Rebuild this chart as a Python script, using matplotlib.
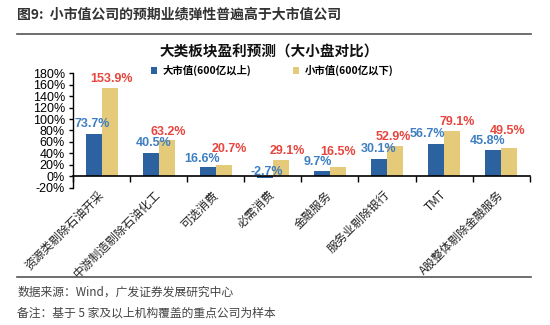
import numpy as np
import matplotlib.pyplot as plt
from matplotlib.lines import Line2D

plt.rcParams['font.family'] = ['Noto Sans CJK SC', 'DejaVu Sans']

categories = ['资源类剔除石油开采', '中游制造剔除石油化工', '可选消费', '必需消费',
              '金融服务', '服务业剔除银行', 'TMT', 'A股整体剔除金融服务']
large_cap = [73.7, 40.5, 16.6, -2.7, 9.7, 30.1, 56.7, 45.8]
small_cap = [153.9, 63.2, 20.7, 29.1, 16.5, 52.9, 79.1, 49.5]
y_ticks = list(range(-20, 181, 20))

# label nudges (points) so the value labels do not collide
blue_dx = [-1, 2, -4, 1, -3, 0, -6, -4]
blue_dy = [7.5, 7, 5.5, 3, 6, 7.5, 7, 6.5]
red_dx = [1, 1, 4, 5, 0, -1, 4, -1]
red_dy = [6.5, 6, 11.5, 6.5, 10.5, 6.5, 6.5, 12]

blue = '#2D62A0'
gold = '#E5CA7A'
blue_txt = '#3E7EC2'
red_txt = '#E7453D'
num_font = 'Liberation Sans'

fig = plt.figure(figsize=(5.5, 3.25), dpi=100)
fig.patch.set_facecolor('white')

# header and footer
fig.text(0.031, 0.957, '图9:  小市值公司的预期业绩弹性普遍高于大市值公司',
         fontsize=10, fontweight='bold', color='#333333', va='center')
fig.add_artist(Line2D([0.03, 0.965], [0.895, 0.895], color='#555555', lw=1.2))
fig.add_artist(Line2D([0.03, 0.965], [0.148, 0.148], color='#555555', lw=1.2))
fig.text(0.031, 0.102, '数据来源：Wind，广发证券发展研究中心', fontsize=8.5,
         color='#444444', va='center')
fig.text(0.031, 0.037, '备注：基于 5 家及以上机构覆盖的重点公司为样本', fontsize=8.5,
         color='#444444', va='center')

ax = fig.add_axes([0.133, 0.422, 0.83, 0.353])
for s in ['top', 'right']:
    ax.spines[s].set_visible(False)
ax.spines['bottom'].set_position(('data', 0))
ax.spines['bottom'].set_linewidth(1.2)
ax.spines['left'].set_linewidth(1)

x = np.arange(len(categories))
w = 0.28
ax.bar(x - w / 2, large_cap, w, color=blue, label='大市值(600亿以上)')
ax.bar(x + w / 2, small_cap, w, color=gold, label='小市值(600亿以下)')

for i in range(len(categories)):
    ax.annotate(f'{large_cap[i]:.1f}%', (x[i] - w / 2, max(large_cap[i], 0)),
                xytext=(blue_dx[i], blue_dy[i]), textcoords='offset points',
                ha='center', va='center', color=blue_txt, fontsize=9,
                fontweight='bold', family=num_font)
    ax.annotate(f'{small_cap[i]:.1f}%', (x[i] + w / 2, small_cap[i]),
                xytext=(red_dx[i], red_dy[i]), textcoords='offset points',
                ha='center', va='center', color=red_txt, fontsize=9,
                fontweight='bold', family=num_font)

ax.set_xlim(-0.5, len(categories) - 0.5)
ax.set_ylim(-20, 180)
ax.set_yticks(y_ticks)
ax.set_yticklabels([f'{t}%' for t in y_ticks], fontsize=9, family=num_font)
ax.set_xticks(np.arange(len(categories) + 1) - 0.5)
ax.set_xticklabels([])
ax.set_xticks(x, minor=True)
ax.set_xticklabels(categories, minor=True, rotation=45, ha='right', va='center',
                   rotation_mode='anchor', fontsize=8.5, color='#222222')
ax.tick_params(axis='x', which='minor', length=0, pad=12)
ax.tick_params(axis='x', which='major', length=4, direction='out', width=1)
ax.tick_params(axis='y', length=3, direction='out', width=1, pad=3)

fig.text(0.49, 0.843, '大类板块盈利预测（大小盘对比）', fontsize=10.5,
         fontweight='bold', ha='center', va='center', color='#111111')
ax.legend(loc='center', bbox_to_anchor=(0.495, 0.782), bbox_transform=fig.transFigure,
          ncol=2, frameon=False, handlelength=0.6, handleheight=0.6,
          handletextpad=0.5, columnspacing=4,
          prop={'weight': 'bold', 'size': 7.5})

fig.savefig('out.png', dpi=100)
